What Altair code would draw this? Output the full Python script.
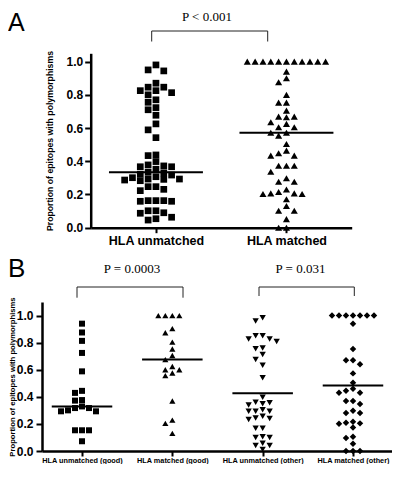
import json
import altair as alt
import pandas as pd

# ---------------- data ----------------
A_groups = ["HLA unmatched", "HLA matched"]
A_unmatched = [0.98, 0.95, 0.944, 0.87, 0.846, 0.846, 0.825, 0.813, 0.825, 0.80,
               0.77, 0.755, 0.71, 0.723, 0.677, 0.625, 0.589, 0.542,
               0.438, 0.434, 0.398, 0.378, 0.367, 0.352, 0.334, 0.367, 0.372,
               0.322, 0.307, 0.293, 0.287, 0.283, 0.291, 0.293, 0.301, 0.317, 0.33,
               0.247, 0.231, 0.223, 0.247,
               0.163, 0.163, 0.159, 0.159, 0.163,
               0.102, 0.087, 0.09, 0.102,
               0.063, 0.054, 0.046]
A_matched = [1.0] * 11 + [0.94, 0.90, 0.876, 0.80, 0.753, 0.753, 0.705, 0.669, 0.669,
                          0.665, 0.635, 0.625, 0.605, 0.605, 0.572, 0.572, 0.554,
                          0.504, 0.448, 0.434, 0.434, 0.464, 0.373, 0.373, 0.373,
                          0.337, 0.298, 0.277, 0.277, 0.207, 0.207, 0.23, 0.203,
                          0.203, 0.215, 0.171, 0.102, 0.102, 0.131, 0.052, 0.0, 0.0]
A_centre = [0.334, 0.572]
A_pvalue = "P < 0.001"

B_groups = ["HLA unmatched (good)", "HLA matched (good)",
            "HLA unmatched (other)", "HLA matched (other)"]
B_unmatched_good = [0.94, 0.875, 0.813, 0.724, 0.588, 0.444, 0.429, 0.376, 0.372,
                    0.317, 0.30, 0.293, 0.293, 0.317, 0.329, 0.153, 0.153, 0.153, 0.072]
B_matched_good = [1.0, 1.0, 1.0, 1.0, 0.904, 0.873, 0.804, 0.753, 0.705, 0.675,
                  0.624, 0.60, 0.576, 0.556, 0.60, 0.369, 0.228, 0.204, 0.13]
B_unmatched_other = [0.983, 0.959, 0.851, 0.851, 0.827, 0.827, 0.808, 0.755, 0.760,
                     0.712, 0.676, 0.633, 0.540, 0.396, 0.36, 0.356, 0.349, 0.339,
                     0.305, 0.293, 0.293, 0.293, 0.256, 0.243, 0.232, 0.24, 0.168,
                     0.168, 0.099, 0.105, 0.099, 0.058, 0.041, 0.041, 0.012]
B_matched_other = [1.0] * 7 + [0.94, 0.753, 0.67, 0.67, 0.64, 0.573, 0.504, 0.46,
                               0.43, 0.43, 0.444, 0.369, 0.369, 0.347, 0.281, 0.281,
                               0.297, 0.216, 0.204, 0.173, 0.201, 0.209, 0.106, 0.096,
                               0.053, 0.0, 0.0, 0.0]
B_centre = [0.329, 0.676, 0.427, 0.484]
B_pvalues = ["P = 0.0003", "P = 0.031"]

Y_TITLE = "Proportion of epitopes with polymorphisms"
SANS = "Liberation Sans"
SERIF = "Liberation Serif"

# whole drawing area (both panels live in one layered view)
W, H = 384, 443


# ---------------- scatter layout (column dot plot) ----------------
def swarm(values, col_step, min_gap):
    order = sorted(range(len(values)), key=lambda i: -values[i])
    taken = {}
    offs = [0.0] * len(values)
    for i in order:
        v = values[i]
        k = 0
        placed = False
        while not placed:
            for c in ([0] if k == 0 else [-k, k]):
                if all(abs(v - w) >= min_gap for w in taken.get(c, [])):
                    taken.setdefault(c, []).append(v)
                    offs[i] = c * col_step
                    placed = True
                    break
            k += 1
    return offs


def build(groups, series, col_step, min_gap):
    rows = []
    for gi, (g, vals) in enumerate(zip(groups, series)):
        for v, o in zip(vals, swarm(vals, col_step, min_gap)):
            rows.append({"group": g, "idx": gi, "value": v, "xpos": gi + o})
    return pd.DataFrame(rows)


def panel(groups, series, centres, shapes, sizes, xdom, xrange, ydom, yrange,
          col_step, min_gap, half, lab_size, lab_pad, ylab_pad, title_size,
          title_pad, x_offset, y_offset):
    df = build(groups, series, col_step, min_gap)
    lines = pd.DataFrame({"idx": list(range(len(groups))), "value": centres})
    lines["xpos"] = lines["idx"] - half
    lines["xend"] = lines["idx"] + half

    xs = alt.Scale(domain=xdom, range=xrange, nice=False, zero=False)
    ys = alt.Scale(domain=ydom, range=yrange, nice=False, zero=False)
    label_expr = json.dumps(groups) + "[round(datum.value)]"
    x_axis = alt.Axis(orient="bottom", offset=x_offset,
                      values=list(range(len(groups))), labelExpr=label_expr,
                      title=None, grid=False, domainColor="black",
                      domainWidth=2.5, tickColor="black", tickWidth=2,
                      tickSize=5, labelFont=SANS, labelFontWeight="bold",
                      labelFontSize=lab_size, labelColor="black",
                      labelPadding=lab_pad, labelOverlap=False,
                      labelFlush=False, zindex=1)
    y_axis = alt.Axis(orient="left", offset=y_offset,
                      values=[0, 0.2, 0.4, 0.6, 0.8, 1.0], format=".1f",
                      title=Y_TITLE, titleFont=SANS, titleFontWeight="bold",
                      titleFontSize=title_size, titleColor="black",
                      titlePadding=title_pad, grid=False,
                      domainColor="black", domainWidth=2.5,
                      tickColor="black", tickWidth=2, tickSize=6,
                      labelFont=SANS, labelFontWeight="bold",
                      labelFontSize=12, labelColor="black",
                      labelPadding=ylab_pad, labelFlush=False, zindex=1)
    X = alt.X("xpos:Q", scale=xs, axis=x_axis)
    Y = alt.Y("value:Q", scale=ys, axis=y_axis)
    pts = alt.Chart(df).mark_point(filled=True, opacity=1, color="black",
                                   strokeWidth=0).encode(
        x=X, y=Y,
        shape=alt.Shape("group:N", scale=alt.Scale(domain=groups, range=shapes),
                        legend=None),
        size=alt.Size("group:O", scale=alt.Scale(domain=groups, range=sizes),
                      legend=None),
    )
    rule = alt.Chart(lines).mark_rule(color="black", strokeWidth=2).encode(
        x=X, x2="xend:Q", y=Y)
    return alt.layer(pts, rule)


def text_layer(txt, x, y, size, font, align="center", baseline="middle"):
    return alt.Chart(pd.DataFrame({"t": [txt]})).mark_text(
        font=font, fontSize=size, align=align, baseline=baseline, color="black"
    ).encode(text="t:N", x=alt.value(x), y=alt.value(y))


def bracket(x1, x2, ytop, ybot):
    d = pd.DataFrame({"k": [0]})
    h = alt.Chart(d).mark_rule(color="#222", strokeWidth=1).encode(
        x=alt.value(x1), x2=alt.value(x2), y=alt.value(ytop))
    l = alt.Chart(d).mark_rule(color="#222", strokeWidth=1).encode(
        x=alt.value(x1), y=alt.value(ytop), y2=alt.value(ybot))
    r = alt.Chart(d).mark_rule(color="#222", strokeWidth=1).encode(
        x=alt.value(x2), y=alt.value(ytop), y2=alt.value(ybot))
    return [h, l, r]


# ---------------- panel A (upper) ----------------
A_x0, A_x1 = 82.7, 343.7      # horizontal extent of panel A axis
A_ybot, A_ytop = 219.7, 45.3  # vertical extent of panel A axis
layer_a = panel(A_groups, [A_unmatched, A_matched], A_centre,
                ["square", "triangle-up"], [45, 50],
                [-0.5, 1.5], [A_x0, A_x1], [0, 1.05], [A_ybot, A_ytop],
                0.06, 0.039, 0.36, 12.5, 2, 2, 8.7, 11.5,
                -(H - A_ybot), -A_x0)

# ---------------- panel B (lower) ----------------
B_x0, B_x1 = 34, W
B_ybot, B_ytop = H, 294
layer_b = panel(B_groups,
                [B_unmatched_good, B_matched_good, B_unmatched_other,
                 B_matched_other],
                B_centre,
                ["square", "triangle-up", "triangle-down", "diamond"],
                [36, 42, 42, 30],
                [-0.443, 3.432], [B_x0, B_x1], [0, 1.1], [B_ybot, B_ytop],
                0.0775, 0.043, 0.335, 7.3, 0, 3, 7.7, 0,
                0, -B_x0)

annotations = [
    text_layer("A", 0, 3, 25, SANS, align="left", baseline="top"),
    text_layer(A_pvalue, 199, 3, 13, SERIF, baseline="top"),
    *bracket(143.7, 259.7, 23, 33.5),
    text_layer("B", 0, 269, 26, SANS, align="left", baseline="alphabetic"),
    text_layer(B_pvalues[0], 124, 261, 13, SERIF),
    text_layer(B_pvalues[1], 292.5, 261, 13, SERIF),
    *bracket(69, 175, 279, 289.7),
    *bracket(251, 346.3, 279, 288),
]

chart = alt.layer(layer_a, layer_b, *annotations).resolve_scale(
    x="independent", y="independent", shape="independent", size="independent"
).resolve_axis(
    x="independent", y="independent"
).properties(
    width=W, height=H, padding=0, background="white"
).configure_view(stroke=None)

chart.save("out.html", embed_options={"renderer": "svg", "actions": False})
